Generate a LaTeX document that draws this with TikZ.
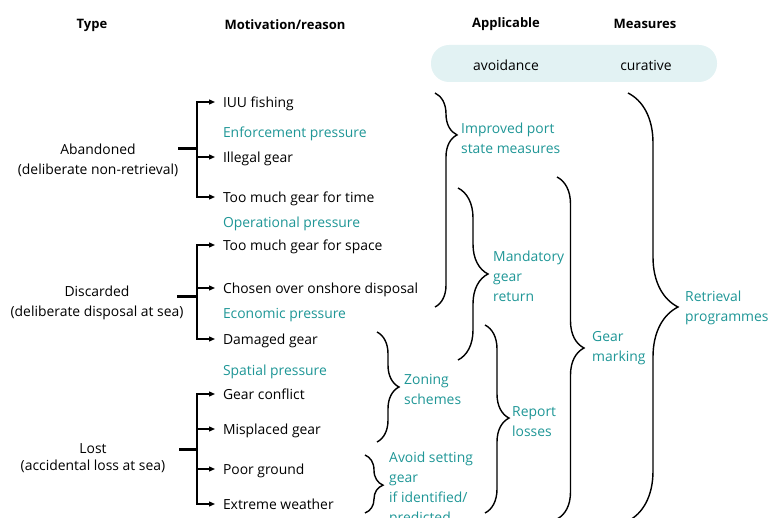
\documentclass[tikz,border=0pt]{standalone}
\usepackage{fontspec}
\setmainfont{Open Sans}
\usetikzlibrary{arrows.meta,decorations.pathreplacing}
\definecolor{measteal}{RGB}{30,150,150}
\definecolor{bandfill}{RGB}{226,242,243}
\begin{document}
\begin{tikzpicture}[x=1pt,y=-1pt,
  every node/.style={font=\fontsize{13.9}{20}\selectfont},
  head/.style={font=\fontsize{13}{20}\selectfont\bfseries, yshift=-2pt},
  typ/.style={align=center, yshift=-2pt},
  item/.style={anchor=west, inner xsep=0pt, outer xsep=8pt, text height=12pt, text depth=1pt},
  press/.style={item, text=measteal},
  mtext/.style={anchor=west, align=left, inner xsep=0pt, text=measteal, yshift=-2pt},
  stem/.style={line width=2pt, line cap=rect},
  bar/.style={line width=3pt},
  arr/.style={line width=1.3pt, -{Triangle[length=6pt,width=5pt]}},
  curly/.style 2 args={decorate, decoration={brace, amplitude=#1, aspect=#2}, line width=1.4pt}]
\clip (0,0) rectangle (769,518);
\node[head] (htype) at (92,23) {Type};
\node[head] (hmotiv) at (285,23) {Motivation/reason};
\node[head] (happl) at (506,22) {Applicable};
\node[head] (hmeas) at (645,22) {Measures};
\fill[bandfill, rounded corners=18pt] (431,45) rectangle (717,82);
\node[yshift=-2pt] (avoid) at (506,63) {avoidance};
\node[yshift=-2pt] (curat) at (646,63) {curative};
\node[typ] (abandoned) at (98,158) {Abandoned\\(deliberate non-retrieval)};
\node[typ] (discarded) at (97,301) {Discarded\\(deliberate disposal at sea)};
\node[typ, font=\fontsize{13.9}{17}\selectfont] (lost) at (93,456) {Lost\\(accidental loss at sea)};
\node[item] (iuu) at (215,102) {IUU fishing};
\node[press] (enf) at (215,132) {Enforcement pressure};
\node[item] (illegal) at (215,157) {Illegal gear};
\node[item] (time) at (215,197) {Too much gear for time};
\node[press] (oper) at (215,222) {Operational pressure};
\node[item] (space) at (215,245) {Too much gear for space};
\node[item] (chosen) at (215,288) {Chosen over onshore disposal};
\node[press] (econ) at (215,313) {Economic pressure};
\node[item] (damaged) at (215,339) {Damaged gear};
\node[press] (spatial) at (215,370) {Spatial pressure};
\node[item] (conflict) at (215,394) {Gear conflict};
\node[item] (misplaced) at (215,429) {Misplaced gear};
\node[item] (poor) at (215,469) {Poor ground};
\node[item] (weather) at (215,504) {Extreme weather};
\coordinate (abJ) at (197,149);
\coordinate (diJ) at (197,297);
\coordinate (loJ) at (197,450);
\draw[bar] (178,149) -- (abJ);
\draw[bar] (177,297) -- (diJ);
\draw[bar] (179,450) -- (loJ);
\draw[stem] (abJ |- iuu) -- (abJ |- time);
\draw[stem] (diJ |- space) -- (diJ |- damaged);
\draw[stem] (loJ |- conflict) -- (loJ |- weather);
\foreach \n in {iuu,illegal,time}
  \draw[arr] (abJ |- \n) -- (\n.west);
\foreach \n in {space,chosen,damaged}
  \draw[arr] (diJ |- \n) -- (\n.west);
\foreach \n in {conflict,misplaced,poor,weather}
  \draw[arr] (loJ |- \n) -- (\n.west);
\draw[curly={22pt}{0.196}] (435,93) -- (435,307);
\draw[curly={30pt}{0.5}] (458,188) -- (458,360);
\draw[curly={24pt}{0.495}] (485,325) -- (485,513);
\draw[curly={27pt}{0.5}] (557,177) -- (557,519);
\draw[curly={50pt}{0.5}] (628,93) -- (628,521);
\draw[curly={22pt}{0.5}] (377,332) -- (377,442);
\draw[curly={18pt}{0.52}] (365,455) -- (365,513);
\node[mtext] (port) at (461,136) {Improved port\\state measures};
\node[mtext] (return) at (493,274) {Mandatory\\gear\\return};
\node[mtext] (zoning) at (404,387) {Zoning\\schemes};
\node[mtext] (setting) at (389,487) {Avoid setting\\gear\\if identified/\\predicted};
\node[mtext] (report) at (512,420) {Report\\losses};
\node[mtext] (marking) at (592,346) {Gear\\marking};
\node[mtext] (retriev) at (685,306) {Retrieval\\programmes};
\end{tikzpicture}
\end{document}
